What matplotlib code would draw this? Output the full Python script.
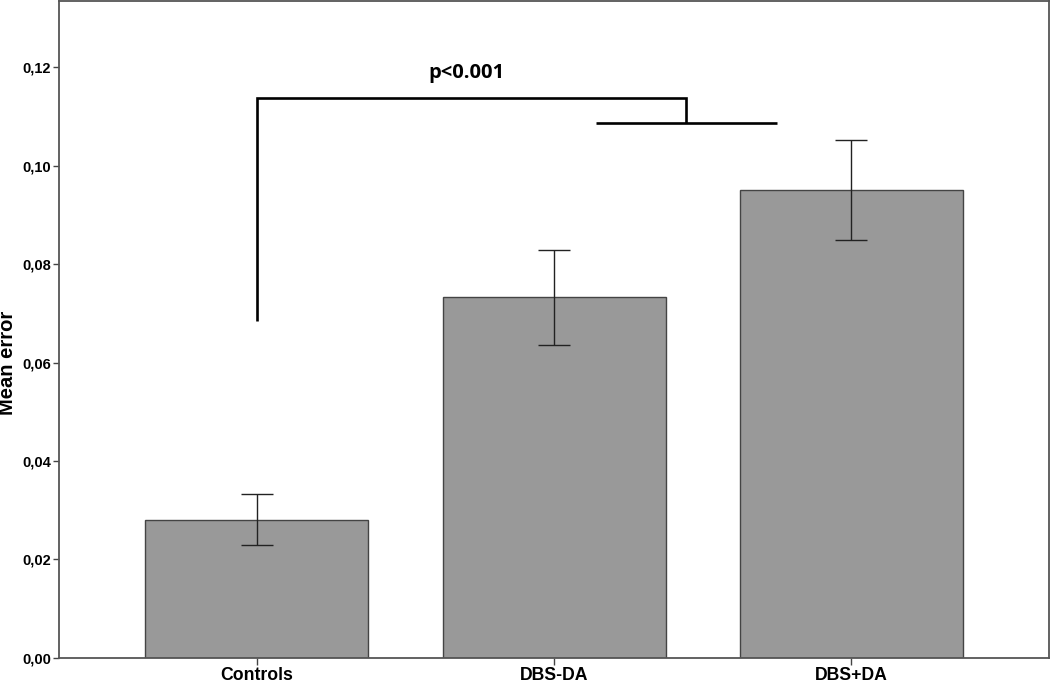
import numpy as np
import matplotlib.pyplot as plt

groups = ['Controls', 'DBS-DA', 'DBS+DA']
mean_error = [0.0280, 0.0733, 0.0950]
err_low = [0.0229, 0.0636, 0.0849]
err_high = [0.0333, 0.0829, 0.1052]
y_ticks = [0.00, 0.02, 0.04, 0.06, 0.08, 0.10, 0.12]

# bracket levels (data units) and label
bracket_top = 0.1137
bracket_sub = 0.1088
bracket_foot = 0.0685
p_label = 'p<0.001'

x = np.arange(len(groups))
means = np.array(mean_error)
yerr = [means - np.array(err_low), np.array(err_high) - means]

fig = plt.figure(figsize=(10.5, 6.83), dpi=100)
ax = fig.add_axes([0.0565, 0.037, 0.9423, 0.9615])

ax.bar(x, means, width=0.75, color='#999999', edgecolor='#444444', linewidth=1.0, zorder=2)
ax.errorbar(x, means, yerr=yerr, fmt='none', ecolor='#222222', elinewidth=1.0,
            capsize=11.5, capthick=1.0, zorder=3)

# significance bracket: Controls vs. DBS groups
mid = (x[1] + x[2]) / 2
ax.plot([x[0], x[0], mid - 0.057, mid - 0.057], [bracket_foot, bracket_top, bracket_top, bracket_sub],
        color='black', lw=1.9, solid_capstyle='butt', solid_joinstyle='miter', zorder=4)
ax.plot([x[1] + 0.14, x[2] - 0.25], [bracket_sub, bracket_sub], color='black', lw=1.9,
        solid_capstyle='butt', zorder=4)
ax.text(0.705, 0.1189, p_label, ha='center', va='center', fontsize=14.5, fontweight='bold',
        family=['Open Sans', 'DejaVu Sans'])

ax.set_xlim(-0.664, 2.664)
ax.set_ylim(0, 0.1335)
ax.set_xticks(x)
ax.set_xticklabels(groups, fontsize=12.7, fontweight='bold', family=['Liberation Sans', 'DejaVu Sans'])
ax.set_yticks(y_ticks)
ax.set_yticklabels([('%.2f' % v).replace('.', ',') for v in y_ticks], fontsize=10.5,
                   fontweight='bold', family=['Liberation Sans', 'DejaVu Sans'])
ax.tick_params(axis='y', length=4, width=1, color='#444444', pad=2)
ax.tick_params(axis='x', length=5, width=1, color='#444444', pad=2)
fig.text(0.0072, 0.4685, 'Mean error', rotation=90, ha='center', va='center', fontsize=14.5,
         fontweight='bold', family=['Liberation Sans', 'DejaVu Sans'])

for s in ax.spines.values():
    s.set_color('#555555')
    s.set_linewidth(1.3)

fig.savefig('out.png', dpi=100)
